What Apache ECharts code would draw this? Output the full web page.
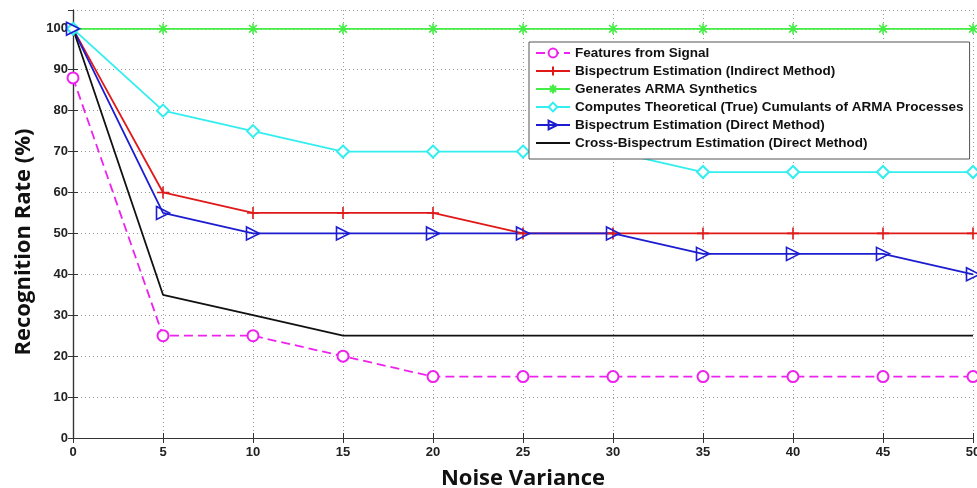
<!DOCTYPE html>
<html>
<head>
<meta charset="utf-8">
<script src="https://cdn.jsdelivr.net/npm/echarts@6/dist/echarts.min.js"></script>
<style>
  html, body { margin: 0; padding: 0; background: #fff; }
  #chart { width: 977px; height: 488px; }
</style>
</head>
<body>
<div id="chart"></div>
<script>
const noiseVariance = [0, 5, 10, 15, 20, 25, 30, 35, 40, 45, 50];

const featuresFromSignal = [88, 25, 25, 20, 15, 15, 15, 15, 15, 15, 15];
const bispecIndirect = [100, 60, 55, 55, 55, 50, 50, 50, 50, 50, 50];
const armaSynthetics = [100, 100, 100, 100, 100, 100, 100, 100, 100, 100, 100];
const trueCumulants = [100, 80, 75, 70, 70, 70, 70, 65, 65, 65, 65];
const bispecDirect = [100, 55, 50, 50, 50, 50, 50, 45, 45, 45, 40];
const crossBispec = [100, 35, 30, 25, 25, 25, 25, 25, 25, 25, 25];

const seriesNames = [
  'Features from Signal',
  'Bispectrum Estimation (Indirect Method)',
  'Generates ARMA Synthetics',
  'Computes Theoretical (True) Cumulants of ARMA Processes',
  'Bispectrum Estimation (Direct Method)',
  'Cross-Bispectrum Estimation (Direct Method)'
];

const pair = vals => vals.map((v, i) => [noiseVariance[i], v]);

const plusPath = 'path://M5,0L5,10M0,5L10,5';
const starPath = 'path://M5,0L5,10M0,5L10,5M1.5,1.5L8.5,8.5M8.5,1.5L1.5,8.5';
const triPath = 'path://M0,0L10,5L0,10Z';

// empty* symbols take their stroke from color; path symbols get a stroke via borderColor
const mkSeries = (name, data, color, symbol, size, dashed) => {
  const emptySym = typeof symbol === 'string' && symbol.indexOf('empty') === 0;
  return {
    name,
    type: 'line',
    data: pair(data),
    symbol,
    symbolSize: size,
    showSymbol: size > 0,
    animation: false,
    lineStyle: { color, width: 1.8, type: dashed ? [9, 5] : 'solid' },
    itemStyle: emptySym
      ? { color, borderWidth: 1.5 }
      : { color: 'transparent', borderColor: size > 0 ? color : 'transparent', borderWidth: 1.6 },
    emphasis: { disabled: true }
  };
};

const chart = echarts.init(document.getElementById('chart'));

const tickLabel = { color: '#222', fontFamily: 'Liberation Sans', fontSize: 13, fontWeight: 'bold' };
const boxLine = { show: true, lineStyle: { color: '#333', width: 1.2 } };
const gridLine = { show: true, lineStyle: { color: '#999', type: [1, 3], width: 1 } };
const innerTick = { show: true, inside: true, length: 5, lineStyle: { color: '#333' } };

chart.setOption({
  backgroundColor: '#fff',
  grid: { left: 73, right: 4, top: 10, bottom: 50, outerBoundsMode: 'none', containLabel: false },
  legend: {
    orient: 'vertical',
    left: 529,
    top: 42,
    itemWidth: 34,
    itemHeight: 11,
    itemGap: 4,
    padding: [4, 6, 9, 6],
    backgroundColor: '#fff',
    borderColor: '#555',
    borderWidth: 1,
    textStyle: { fontFamily: 'Liberation Sans', fontSize: 13.5, fontWeight: 'bold', color: '#111' },
    data: seriesNames
  },
  xAxis: [{
    type: 'value',
    min: 0, max: 50, interval: 5,
    name: 'Noise Variance',
    nameLocation: 'middle',
    nameGap: 30,
    nameTextStyle: { fontFamily: 'Open Sans', fontSize: 22, fontWeight: 'bold', color: '#111' },
    axisLine: boxLine,
    axisTick: innerTick,
    axisLabel: Object.assign({ margin: 8 }, tickLabel),
    splitLine: gridLine
  }, {
    type: 'value', position: 'top',
    min: 0, max: 50, interval: 5,
    axisLine: boxLine,
    axisTick: innerTick,
    axisLabel: { show: false },
    splitLine: { show: false }
  }],
  yAxis: [{
    type: 'value',
    min: 0, max: 104.6, interval: 10,
    name: 'Recognition Rate (%)',
    nameLocation: 'middle',
    nameGap: 38,
    nameTextStyle: {
      fontFamily: 'Open Sans', fontSize: 22, fontWeight: 'bold', color: '#111',
      padding: [0, 36, 0, 0]
    },
    axisLine: boxLine,
    axisTick: innerTick,
    axisLabel: Object.assign({ showMaxLabel: false, margin: 5 }, tickLabel),
    splitLine: gridLine
  }, {
    type: 'value', position: 'right',
    min: 0, max: 104.6, interval: 10,
    axisLine: boxLine,
    axisTick: innerTick,
    axisLabel: { show: false },
    splitLine: { show: false }
  }],
  series: [
    mkSeries(seriesNames[0], featuresFromSignal, '#ee22ee', 'emptyCircle', 11, true),
    mkSeries(seriesNames[1], bispecIndirect, '#e01818', plusPath, 12, false),
    mkSeries(seriesNames[2], armaSynthetics, '#44ee44', starPath, 11, false),
    mkSeries(seriesNames[3], trueCumulants, '#33eeee', 'emptyDiamond', 12, false),
    mkSeries(seriesNames[4], bispecDirect, '#1c1cd0', triPath, 13, false),
    mkSeries(seriesNames[5], crossBispec, '#111111', triPath, 0, false)
  ]
});
</script>
</body>
</html>
